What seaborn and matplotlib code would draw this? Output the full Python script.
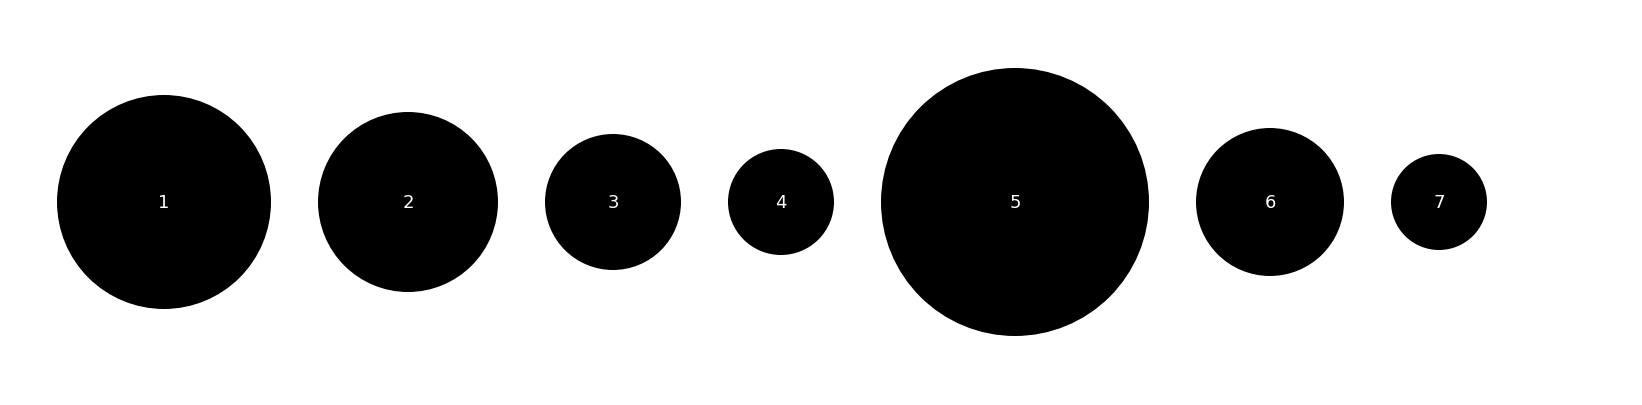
""" Bolhas pretas em linha, numeradas de 1 a 7 """
import numpy as np
import pandas as pd
import matplotlib
matplotlib.use("Agg")
import matplotlib.pyplot as plt
import seaborn as sns

labels = ["1", "2", "3", "4", "5", "6", "7"]
radii = [107, 90, 68, 53, 134, 74, 48]  # raio de cada bolha (px)

W, H, DPI = 1642, 405, 100
gap = 47
left = 57
cy = H - 202

# centros: bolhas lado a lado com espaço fixo entre elas
r = np.array(radii, dtype=float)
cx = left + np.cumsum(2 * r + gap) - r - gap

df = pd.DataFrame({"label": labels, "x": cx, "y": cy})
sizes = {lab: (2 * rad * 72 / DPI) ** 2 for lab, rad in zip(labels, radii)}

sns.set_theme(style="white")
fig = plt.figure(figsize=(W / DPI, H / DPI), dpi=DPI)
ax = fig.add_axes([0, 0, 1, 1])
sns.scatterplot(data=df, x="x", y="y", size="label", sizes=sizes,
                color="black", linewidth=0, legend=False, ax=ax)
for _, row in df.iterrows():
    # números centrados pela altura do dígito
    ax.text(row.x, row.y - 5.7, row.label, color="white", fontsize=13,
            ha="center", va="baseline", family="DejaVu Sans")
ax.set_xlim(0, W)
ax.set_ylim(0, H)
ax.axis("off")
fig.savefig("out.png", dpi=DPI)
